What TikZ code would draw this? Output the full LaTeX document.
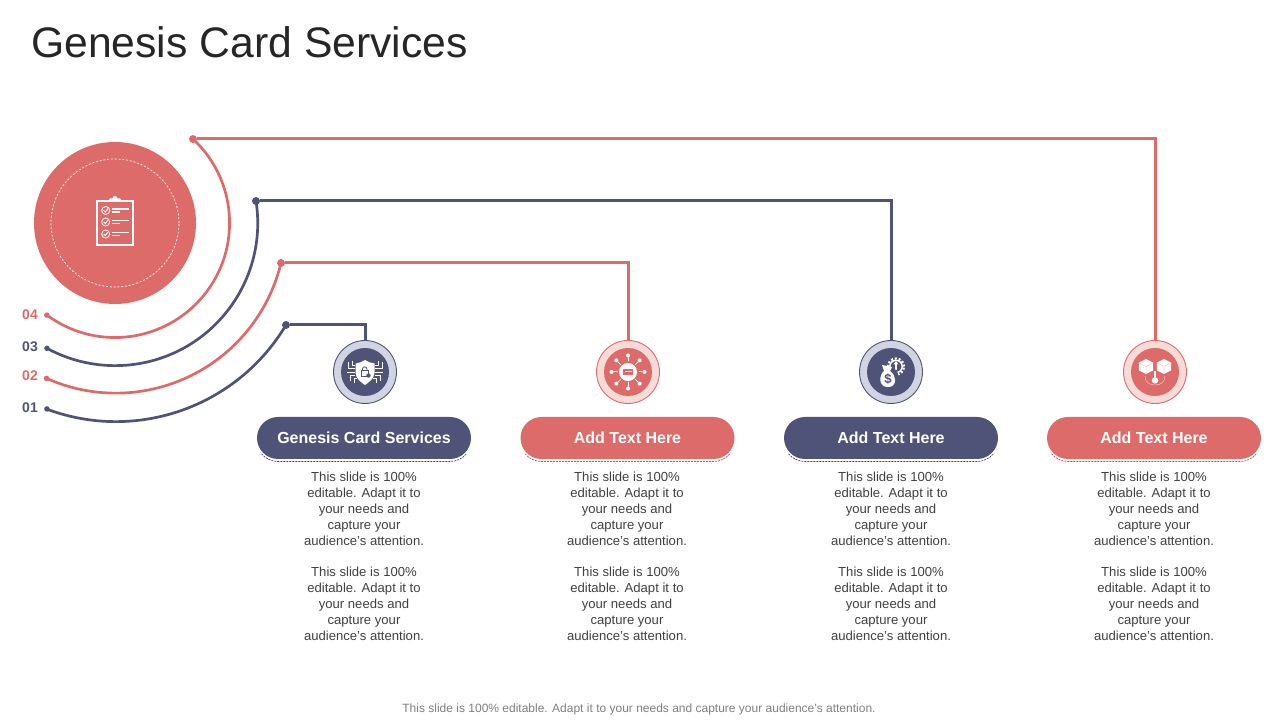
\documentclass[tikz,border=0pt]{standalone}
\usepackage{fontspec}
\setmainfont{Liberation Sans}
\usetikzlibrary{shapes.misc,calc}
\definecolor{redc}{HTML}{DD6B69}
\definecolor{navy}{HTML}{4F5378}
\definecolor{redl}{HTML}{F8DAD7}
\definecolor{navyl}{HTML}{D0D4E3}
\definecolor{bodyc}{HTML}{404040}
\definecolor{footc}{HTML}{7F7F7F}
\definecolor{titlec}{HTML}{262626}
\tikzset{
  conn/.style={line width=3pt,line join=miter},
  arcl/.style={line width=2.7pt},
  dotn/.style={circle,inner sep=0pt,minimum size=8pt,fill=#1},
  enddot/.style={circle,inner sep=0pt,minimum size=5.5pt,fill=#1},
  iconring/.style={circle,inner sep=0pt,minimum size=63pt,line width=.9pt},
  pill/.style={rounded rectangle,minimum width=214pt,minimum height=42pt,inner sep=0pt,fill=#1,text=white,font=\fontsize{16}{18}\selectfont\bfseries},
  bodyt/.style={align=center,text=bodyc,inner sep=0pt,font=\fontsize{13.1}{16}\selectfont},
  numt/.style={inner sep=0pt,font=\fontsize{14}{16}\selectfont\bfseries}
}
\newcommand{\bodytext}{This slide is 100\%\\editable. Adapt it to\\your needs and\\capture your\\audience's attention.}
\begin{document}
\begin{tikzpicture}[x=1pt,y=1pt]
\useasboundingbox (0,0) rectangle (1280,720);
\node[anchor=west,inner sep=0pt,text=titlec,font=\fontsize{42.7}{50}\selectfont] (title) at (31,678) {Genesis Card Services};

% big circle
\node[circle,fill=redc,minimum size=162pt,inner sep=0pt] (big) at (115,497) {};
\node[circle,draw=white,dash pattern=on 2pt off 1.8pt,line width=.7pt,minimum size=128pt,inner sep=0pt] (bigin) at (115,497) {};
% clipboard
\begin{scope}[shift={(115,497)}]
  \draw[white,line width=2.6pt] (-18,-22) rectangle (18,22);
  \fill[white] (-7,22) -- (-5,24.5) -- (-2.5,24.5) arc[start angle=180,end angle=0,radius=2.5] -- (5,24.5) -- (7,22) -- cycle;
  \foreach \yy in {12.5,1,-11}{
    \draw[white,line width=.8pt] (-9.3,\yy) circle[radius=4];
    \draw[white,line width=.9pt] (-11.3,\yy) -- (-9.7,\yy-1.6) -- (-7.1,\yy+1.8);
    \fill[white] (-3.3,\yy+.6) rectangle (13.5,\yy+2.4);
    \fill[white] (-3.3,\yy-2.4) rectangle (5,\yy-.7);
  }
\end{scope}

% arc end dots and arcs
\node[dotn=redc]  (d4) at (193,581) {};
\node[dotn=navy]  (d3) at (256,519) {};
\node[dotn=redc]  (d2) at (281,457) {};
\node[dotn=navy]  (d1) at (286,395) {};
\node[enddot=redc] (e4) at ($(115,497)+(-126.5:114.6)$) {};
\node[enddot=navy] (e3) at ($(115,497)+(-118.5:142.6)$) {};
\node[enddot=redc] (e2) at ($(115,497)+(-113.8:169.8)$) {};
\node[enddot=navy] (e1) at ($(115,497)+(-110.1:198)$) {};
\draw[arcl,redc] (d4.center) arc[start angle=47.1,end angle=-126.5,radius=114.6];
\draw[arcl,navy] (d3.center) arc[start angle=8.9,end angle=-118.5,radius=142.6];
\draw[arcl,redc] (d2.center) arc[start angle=-13.5,end angle=-113.8,radius=169.8];
\draw[arcl,navy] (d1.center) arc[start angle=-30.8,end angle=-110.1,radius=198];

\node[numt,text=redc,anchor=east] (n4) at (38,405.5) {04};
\node[numt,text=navy,anchor=east] (n3) at (38,373.5) {03};
\node[numt,text=redc,anchor=east] (n2) at (38,344.5) {02};
\node[numt,text=navy,anchor=east] (n1) at (38,312.5) {01};

% icon rings
\node[iconring,draw=navy,fill=navyl] (i1) at (365,348) {};
\node[iconring,draw=redc,fill=redl] (i2) at (628,348) {};
\node[iconring,draw=navy,fill=navyl] (i3) at (891,348) {};
\node[iconring,draw=redc,fill=redl] (i4) at (1155,348) {};
\foreach \n/\c in {i1/navy,i2/redc,i3/navy,i4/redc}
  \fill[\c] (\n.center) circle[radius=24];

% connectors
\draw[conn,navy] (d1) -| (i1);
\draw[conn,redc] (d2) -| (i2);
\draw[conn,navy] (d3) -| (i3);
\draw[conn,redc] (d4) -| (i4);

% icon 1 : shield and circuits
\begin{scope}[shift={(i1.center)}]
  \fill[white] (0,12) .. controls (3,10) and (6,9) .. (9.5,8.5) -- (9.5,-1) .. controls (9,-7) and (4,-10) .. (0,-13) .. controls (-4,-10) and (-9,-7) .. (-9.5,-1) -- (-9.5,8.5) .. controls (-6,9) and (-3,10) .. (0,12) -- cycle;
  \draw[navy,line width=.8pt] (-3.5,-4.5) rectangle (3,1.5);
  \draw[navy,line width=.8pt] (-2.5,1.5) -- (-2.5,3) arc[start angle=180,end angle=0,radius=2.2] -- (1.9,1.5);
  \fill[navy] (3.5,-3.5) circle[radius=2.2];
  \foreach \s in {1,-1}{
    \begin{scope}[xscale=\s]
      \draw[white,line width=.9pt] (10,4) -- (17,4) -- (17,10);
      \draw[white,line width=.9pt] (10,6.5) -- (13,6.5) -- (13,11);
      \draw[white,line width=.9pt] (10,0) -- (18,0);
      \draw[white,line width=.9pt] (10,-3) -- (15,-3) -- (15,-9);
      \draw[white,line width=.9pt] (8,-6) -- (11,-6) -- (11,-11);
    \end{scope}
  }
\end{scope}

% icon 2 : hub
\begin{scope}[shift={(i2.center)}]
  \fill[white] (0,0) circle[radius=9];
  \fill[redc] (-5,-2.8) rectangle (5,2.8);
  \fill[white] (-3.5,-.4) rectangle (3.5,.6);
  \foreach \a in {0,45,...,315}{
    \draw[white,line width=1pt] (\a:10.5) -- (\a:15.5);
    \fill[white] (\a:16.5) circle[radius=2];
  }
\end{scope}

% icon 3 : money bag and gear
\begin{scope}[shift={(i3.center)}]
  \draw[white,line width=2.2pt,dash pattern=on 2pt off 1.9pt] (5,5.5) circle[radius=8];
  \draw[white,line width=1.4pt] (5,5.5) circle[radius=6.2];
  \draw[white,line width=2pt] (5,1.5) -- (5,8);
  \fill[white] (2.5,7.5) -- (5,11) -- (7.5,7.5) -- cycle;
  \fill[navy] (-3,-5) circle[radius=10.5];
  \fill[white] (-9,7) -- (1,5) -- (-1,1) .. controls (5,-3) and (7,-15) .. (-3,-15) .. controls (-13,-15) and (-12,-3) .. (-7,1) -- cycle;
  \node[inner sep=0pt,text=navy,font=\fontsize{13}{13}\selectfont\bfseries] (dollar) at (-3,-7.5) {\$};
\end{scope}

% icon 4 : cubes
\begin{scope}[shift={(i4.center)}]
  \foreach \xx in {-9,9}{
    \begin{scope}[shift={(\xx,5.5)}]
      \fill[white] (0,7.5) -- (7.2,3.8) -- (7.2,-3.8) -- (0,-7.5) -- (-7.2,-3.8) -- (-7.2,3.8) -- cycle;
      \draw[redc!40!white,line width=.5pt] (-7.2,3.8) -- (0,0) -- (7.2,3.8) (0,0) -- (0,-7.5);
    \end{scope}
  }
  \fill[white] (0,-8.5) circle[radius=3.2];
  \draw[white,line width=1.4pt] (0,-7) -- (0,1);
  \draw[white!70!redc,line width=.4pt] (-10,-4) .. controls (-10,-10) and (-6,-13) .. (0,-13) .. controls (6,-13) and (10,-10) .. (10,-4);
\end{scope}

% dashed underlines, then pills on top
\foreach \xx/\c in {364/navy,627.5/redc,891/navy,1154/redc}
  \draw[\c!85!black,line width=.7pt,dash pattern=on 2pt off 1pt]
    (\xx-86,280) ++(220:21.5) arc[start angle=220,end angle=270,radius=21.5]
    -- ++(172,0) arc[start angle=270,end angle=320,radius=21.5];
\node[pill=navy] (p1) at (364,282) {Genesis Card Services};
\node[pill=redc] (p2) at (627.5,282) {Add Text Here};
\node[pill=navy] (p3) at (891,282) {Add Text Here};
\node[pill=redc] (p4) at (1154,282) {Add Text Here};

% body text
\foreach \n/\xx in {1/364,2/627,3/891,4/1154}{
  \node[bodyt] (ta\n) at (\xx,211.5) {\bodytext};
  \node[bodyt] (tb\n) at (\xx,116.5) {\bodytext};
}
\node[inner sep=0pt,text=footc,font=\fontsize{12}{14}\selectfont] (foot) at (639,10.5) {This slide is 100\% editable. Adapt it to your needs and capture your audience's attention.};
\end{tikzpicture}
\end{document}
